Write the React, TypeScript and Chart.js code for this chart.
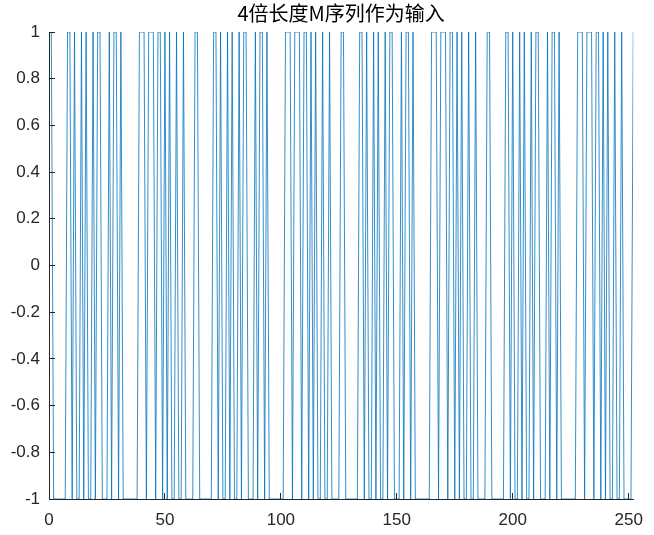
import React, { useEffect, useRef } from 'react';
import { Chart, registerables } from 'chart.js';

Chart.register(...registerables);

const TITLE = '4倍长度M序列作为输入';
const X_MIN = 0;
const X_MAX = 252;
const X_TICKS = [0, 50, 100, 150, 200, 250];
const Y_MIN = -1;
const Y_MAX = 1;
const Y_TICKS = [-1, -0.8, -0.6, -0.4, -0.2, 0, 0.2, 0.4, 0.6, 0.8, 1];
const FIRST_SAMPLE = 0;

// input signal, samples 0..252 (four periods of 63 plus the closing sample)
const signal: number[] = [
  1, 1, -1, -1, -1, -1, -1, -1, 1, 1, -1, 1, -1, -1, 1, -1,
  1, -1, -1, 1, -1, 1, 1, -1, -1, -1, 1, -1, 1, 1, -1, 1,
  -1, -1, -1, -1, -1, -1, -1, 1, 1, 1, -1, 1, 1, 1, -1, 1,
  1, -1, 1, -1, 1, -1, -1, 1, -1, -1, 1, -1, -1, -1, -1,
  1, 1, -1, -1, -1, -1, -1, -1, 1, 1, -1, 1, -1, -1, 1, -1,
  1, -1, -1, 1, -1, 1, 1, -1, -1, -1, 1, -1, 1, 1, -1, 1,
  -1, -1, -1, -1, -1, -1, -1, 1, 1, 1, -1, 1, 1, 1, -1, 1,
  1, -1, 1, -1, 1, -1, -1, 1, -1, -1, 1, -1, -1, -1, -1,
  1, 1, -1, -1, -1, -1, -1, -1, 1, 1, -1, 1, -1, -1, 1, -1,
  1, -1, -1, 1, -1, 1, 1, -1, -1, -1, 1, -1, 1, 1, -1, 1,
  -1, -1, -1, -1, -1, -1, -1, 1, 1, 1, -1, 1, 1, 1, -1, 1,
  1, -1, 1, -1, 1, -1, -1, 1, -1, -1, 1, -1, -1, -1, -1,
  1, 1, -1, -1, -1, -1, -1, -1, 1, 1, -1, 1, -1, -1, 1, -1,
  1, -1, -1, 1, -1, 1, 1, -1, -1, -1, 1, -1, 1, 1, -1, 1,
  -1, -1, -1, -1, -1, -1, -1, 1, 1, 1, -1, 1, 1, 1, -1, 1,
  1, -1, 1, -1, 1, -1, -1, 1, -1, -1, 1, -1, -1, -1, -1,
  1,
];

const fmt = (v: number) => {
  const r = Math.round(v * 10) / 10;
  if (Math.abs(r) < 1e-9) return '0';
  return String(r);
};

const AXIS_COLOR = '#262626';
const TICK_FONT = { family: '"Liberation Sans", Arial, sans-serif', size: 17 };

const tickMarks = {
  id: 'tickMarks',
  afterDraw(chart: any) {
    const { ctx, chartArea, scales } = chart;
    ctx.save();
    ctx.strokeStyle = AXIS_COLOR;
    ctx.lineWidth = 1;
    ctx.beginPath();
    for (const t of scales.x.ticks) {
      const px = Math.round(scales.x.getPixelForValue(t.value) - 0.5) + 0.5;
      ctx.moveTo(px, chartArea.bottom);
      ctx.lineTo(px, chartArea.bottom - 6);
    }
    for (const t of scales.y.ticks) {
      const py = Math.round(scales.y.getPixelForValue(t.value) - 0.5) + 0.5;
      ctx.moveTo(chartArea.left, py);
      ctx.lineTo(chartArea.left + 6, py);
    }
    ctx.stroke();
    ctx.restore();
  },
};

export default function App() {
  const ref = useRef<HTMLCanvasElement>(null);
  useEffect(() => {
    if (!ref.current) return;
    const chart = new Chart(ref.current, {
      type: 'line',
      data: {
        datasets: [
          {
            data: signal.map((v, i) => ({ x: FIRST_SAMPLE + i, y: v })),
            borderColor: '#0072BD',
            borderWidth: 0.8,
            pointRadius: 0,
            tension: 0,
            fill: false,
          },
        ],
      },
      options: {
        animation: false,
        responsive: false,
        devicePixelRatio: 1,
        layout: { padding: { left: 0, right: 12, top: 0, bottom: 0 } },
        plugins: {
          legend: { display: false },
          tooltip: { enabled: false },
          title: {
            display: true,
            text: TITLE,
            fullSize: false,
            color: '#000000',
            font: { family: '"Noto Sans CJK SC", sans-serif', size: 20, weight: 'normal' },
            padding: { top: 1, bottom: 7 },
          },
        },
        scales: {
          x: {
            type: 'linear',
            min: X_MIN,
            max: X_MAX,
            grid: { display: false, drawTicks: false },
            border: { display: true, color: AXIS_COLOR, width: 1 },
            afterBuildTicks: (s: any) => {
              s.ticks = X_TICKS.map((v) => ({ value: v }));
            },
            ticks: {
              autoSkip: false,
              maxRotation: 0,
              padding: 11,
              color: AXIS_COLOR,
              font: TICK_FONT,
              callback: (v: any) => String(v),
            },
            afterFit: (s: any) => {
              s.height = 36;
            },
          },
          y: {
            type: 'linear',
            min: Y_MIN,
            max: Y_MAX,
            grid: { display: false, drawTicks: false },
            border: { display: true, color: AXIS_COLOR, width: 1 },
            afterBuildTicks: (s: any) => {
              s.ticks = Y_TICKS.map((v) => ({ value: v }));
            },
            ticks: {
              autoSkip: false,
              padding: 9,
              color: AXIS_COLOR,
              font: TICK_FONT,
              callback: (v: any) => fmt(Number(v)),
            },
            afterFit: (s: any) => {
              s.width = 49;
            },
          },
        },
      },
      plugins: [tickMarks],
    });
    return () => chart.destroy();
  }, []);
  return (
    <div style={{ position: 'fixed', left: 0, top: 0, width: 654, height: 535, background: '#fff' }}>
      <canvas ref={ref} width={654} height={535} />
    </div>
  );
}
